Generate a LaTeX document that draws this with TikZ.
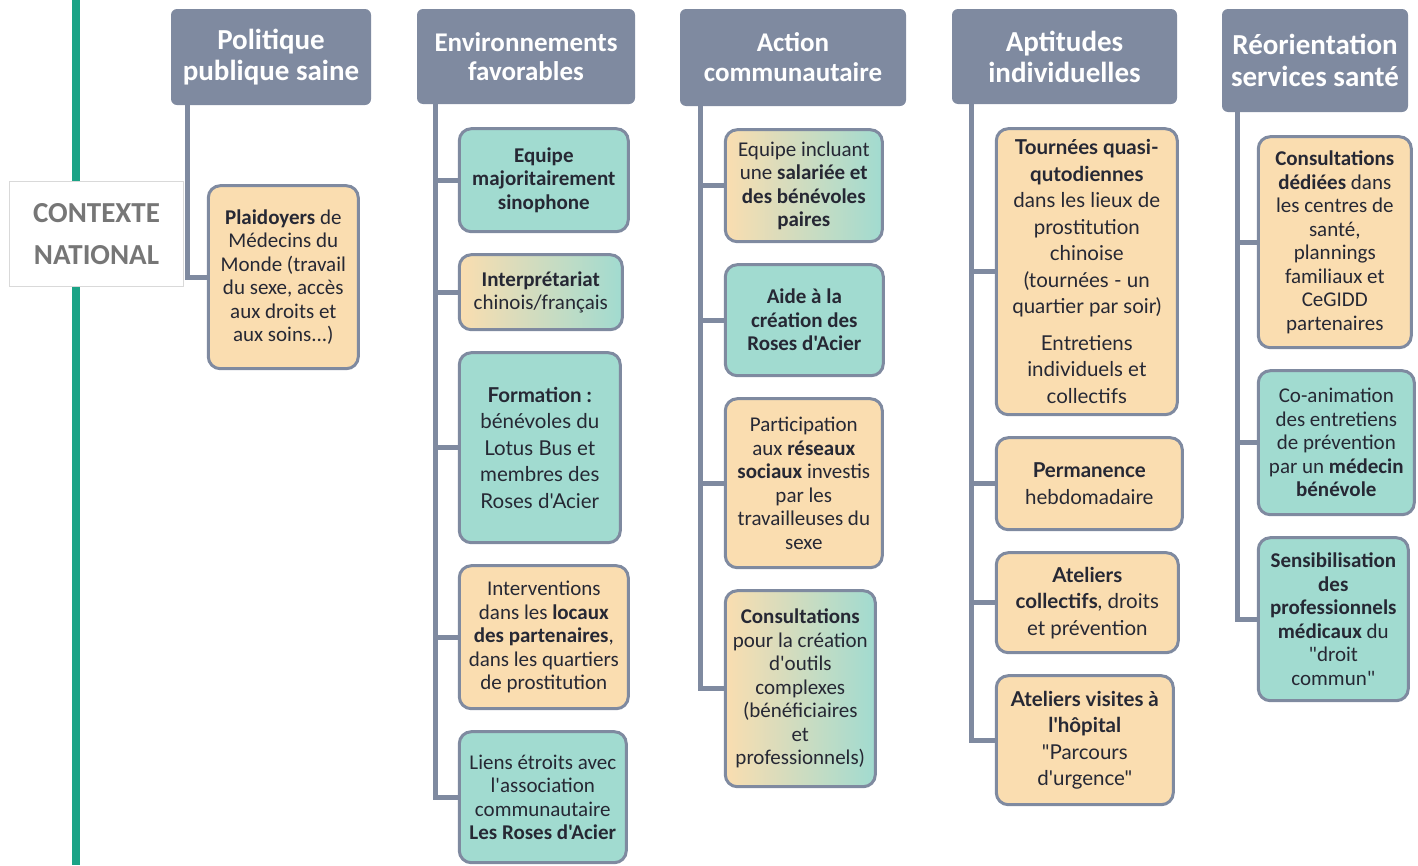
\documentclass[tikz,border=0pt]{standalone}
\usepackage{fontspec}
\setmainfont{Carlito}[Ligatures=TeXOff]
\newfontfamily\latofont{Lato}[Ligatures=TeXOff]
\usetikzlibrary{positioning}
\definecolor{ardoise}{RGB}{127,138,160}
\definecolor{peche}{RGB}{250,221,176}
\definecolor{menthe}{RGB}{161,219,208}
\definecolor{encre}{RGB}{38,40,52}
\definecolor{emeraude}{RGB}{27,163,134}
\definecolor{gris}{RGB}{118,118,118}
\tikzset{
	titre/.style={
		rectangle,
		rounded corners=6pt,
		fill=ardoise,
		text=white,
		inner sep=0pt,
		align=center,
		font=\bfseries\fontsize{27}{29}\selectfont},
	boite/.style={
		rectangle,
		rounded corners=12pt,
		draw=ardoise, line width=3pt,
		text=encre,
		inner sep=0pt,
		align=center,
		font=\fontsize{21}{23.5}\selectfont},
	chaud/.style={boite, fill=peche},
	frais/.style={boite, fill=menthe},
	mixte/.style={boite, left color=peche, right color=menthe},
	ronde/.style={font=\latofont\fontsize{20.5}{26.5}\selectfont},
	tronc/.style={draw=ardoise, line width=5pt},
}
\begin{document}
\begin{tikzpicture}[x=1pt,y=-1pt,node distance=20pt]
	\useasboundingbox (0,0) rectangle (1418,865);
	% ligne verte
	\coordinate (haut) at (76,0);
	\coordinate (bas) at (76,865);
	\draw[emeraude, line width=8pt] (haut) -- (bas);
	\node[draw=gray!30, line width=1.5pt, fill=white, text=gris, align=center,
		font=\bfseries\fontsize{29}{42}\selectfont,
		minimum width=174, minimum height=105] (contexte) at (96.5,234) {CONTEXTE\\NATIONAL};

	% titres
	\node[titre, minimum width=200, minimum height=96, font=\bfseries\fontsize{29}{31}\selectfont] (politique) at (271,57) {Politique\\publique saine};
	\node[titre, minimum width=218, minimum height=95] (environ) at (526,56.5) {Environnements\\favorables};
	\node[titre, minimum width=226, minimum height=97, font=\bfseries\fontsize{27}{30}\selectfont] (action) at (793,57.5) {Action\\communautaire};
	\node[titre, minimum width=225, minimum height=95, font=\bfseries\fontsize{29}{31}\selectfont] (aptitudes) at (1064.5,56.5) {Aptitudes\\individuelles};
	\node[titre, minimum width=186, minimum height=103, font=\bfseries\fontsize{29}{32}\selectfont] (reorient) at (1315,60.5) {Réorientation\\services santé};

	% politique publique saine
	\node[chaud, minimum width=150, minimum height=183, below right=79pt and 36pt of politique.south west] (plaidoyer)
		{\textbf{Plaidoyers} de\\Médecins du\\Monde (travail\\du sexe, accès\\aux droits et\\aux soins...)};

	% environnements favorables
	\node[frais, minimum width=169, minimum height=103, below right=23pt and 41pt of environ.south west] (equipe)
		{\textbf{Equipe}\\\textbf{majoritairement}\\\textbf{sinophone}};
	\node[mixte, minimum width=163, minimum height=75, below=of equipe.south west, anchor=north west] (interp)
		{\textbf{Interprétariat}\\chinois/français};
	\node[frais, ronde, minimum width=161, minimum height=190, below=of interp.south west, anchor=north west] (formation)
		{\textbf{Formation~:}\\bénévoles du\\Lotus Bus et\\membres des\\Roses d'Acier};
	\node[chaud, minimum width=169, minimum height=143, below=of formation.south west, anchor=north west] (interv)
		{Interventions\\dans les \textbf{locaux}\\\textbf{des partenaires},\\dans les quartiers\\de prostitution};
	\node[frais, minimum width=167, minimum height=131, below=of interv.south west, anchor=north west] (liens)
		{Liens étroits avec\\l'association\\communautaire\\\textbf{Les Roses d'Acier}};

	% action communautaire
	\node[mixte, minimum width=157, minimum height=112, below right=22pt and 44pt of action.south west] (incluant)
		{Equipe incluant\\une \textbf{salariée et}\\\textbf{des bénévoles}\\\textbf{paires}};
	\node[frais, minimum width=158, minimum height=111, below=of incluant.south west, anchor=north west] (aide)
		{\textbf{Aide à la}\\\textbf{création des}\\\textbf{Roses d'Acier}};
	\node[chaud, minimum width=157, minimum height=169, below=of aide.south west, anchor=north west] (reseaux)
		{Participation\\aux \textbf{réseaux}\\\textbf{sociaux} investis\\par les\\travailleuses du\\sexe};
	\node[mixte, minimum width=150, minimum height=196, below=of reseaux.south west, anchor=north west] (outils)
		{\textbf{Consultations}\\pour la création\\d'outils\\complexes\\(bénéficiaires\\et\\professionnels)};

	% aptitudes individuelles
	\node[chaud, ronde, minimum width=181, minimum height=286, below right=23pt and 43pt of aptitudes.south west] (tournees)
		{\textbf{Tournées quasi-}\\\textbf{qutodiennes}\\dans les lieux de\\prostitution\\chinoise\\(tournées - un\\quartier par soir)\\[10pt]Entretiens\\individuels et\\collectifs};
	\node[chaud, ronde, minimum width=186, minimum height=92, below=of tournees.south west, anchor=north west] (permanence)
		{\textbf{Permanence}\\hebdomadaire};
	\node[chaud, ronde, minimum width=182, minimum height=100, below=of permanence.south west, anchor=north west] (ateliers)
		{\textbf{Ateliers}\\\textbf{collectifs}, droits\\et prévention};
	\node[chaud, ronde, minimum width=177, minimum height=129, below=of ateliers.south west, anchor=north west] (hopital)
		{\textbf{Ateliers visites à}\\\textbf{l'hôpital}\\"Parcours\\d'urgence"};

	% reorientation services sante
	\node[chaud, minimum width=153, minimum height=211, below right=23pt and 35pt of reorient.south west] (dediees)
		{\textbf{Consultations}\\\textbf{dédiées} dans\\les centres de\\santé,\\plannings\\familiaux et\\CeGIDD\\partenaires};
	\node[frais, minimum width=156, minimum height=144, below=of dediees.south west, anchor=north west] (coanim)
		{Co-animation\\des entretiens\\de prévention\\par un \textbf{médecin}\\\textbf{bénévole}};
	\node[frais, minimum width=150, minimum height=163, below=of coanim.south west, anchor=north west] (sensib)
		{\textbf{Sensibilisation}\\\textbf{des}\\\textbf{professionnels}\\\textbf{médicaux} du\\"droit\\commun"};

	% troncs
	\coordinate (t1) at ([xshift=17pt]politique.south west);
	\coordinate (t2) at ([xshift=19pt]environ.south west);
	\coordinate (t3) at ([xshift=21pt]action.south west);
	\coordinate (t4) at ([xshift=20pt]aptitudes.south west);
	\coordinate (t5) at ([xshift=16pt]reorient.south west);
	\draw[tronc] (t1) |- (plaidoyer.west);
	\draw[tronc] (t2) |- (equipe.west) (t2) |- (interp.west) (t2) |- (formation.west)
		(t2) |- (interv.west) (t2) |- (liens.west);
	\draw[tronc] (t3) |- (incluant.west) (t3) |- (aide.west) (t3) |- (reseaux.west) (t3) |- (outils.west);
	\draw[tronc] (t4) |- (tournees.west) (t4) |- (permanence.west) (t4) |- (ateliers.west) (t4) |- (hopital.west);
	\draw[tronc] (t5) |- (dediees.west) (t5) |- (coanim.west) (t5) |- (sensib.west);
\end{tikzpicture}
\end{document}
